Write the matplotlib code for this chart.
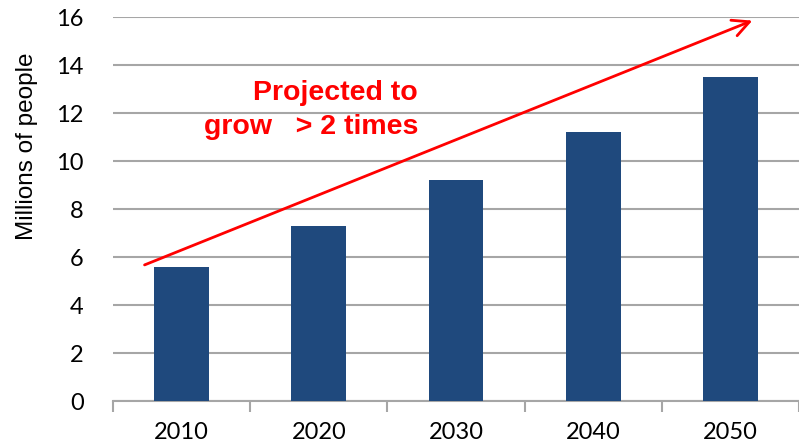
import numpy as np
import matplotlib.pyplot as plt

years = ["2010", "2020", "2030", "2040", "2050"]
people_millions = [5.6, 7.3, 9.2, 11.2, 13.5]
y_ticks = [0, 2, 4, 6, 8, 10, 12, 14, 16]

BAR_COLOR = "#1F497D"
GRID_COLOR = "#A6A6A6"

fig = plt.figure(figsize=(7.99, 4.47), dpi=100)
ax = fig.add_axes([113 / 799, 46 / 447, 686 / 799, 384 / 447])

x = np.arange(len(years))
ax.bar(x, people_millions, width=0.4, color=BAR_COLOR, zorder=3)

ax.set_xlim(-0.5, len(years) - 0.5)
ax.set_ylim(0, 16)
ax.set_yticks(y_ticks)
ax.yaxis.grid(True, color=GRID_COLOR, linewidth=1.5, zorder=0)
ax.set_axisbelow(True)

for side in ["top", "right", "left"]:
    ax.spines[side].set_visible(False)
ax.spines["bottom"].set_color(GRID_COLOR)
ax.spines["bottom"].set_linewidth(1.5)

# category labels centred under the bars, ticks on the boundaries
ax.set_xticks(np.arange(-0.5, len(years)), minor=False)
ax.set_xticklabels([])
ax.tick_params(axis="x", length=8, width=1.5, color=GRID_COLOR, direction="out")
ax.set_xticks(x, minor=True)
ax.set_xticklabels(years, minor=True, fontsize=17, family="Lato")
ax.tick_params(axis="x", which="minor", length=0, pad=15)
ax.tick_params(axis="y", length=0, labelsize=17, pad=21)
for lab in ax.get_yticklabels():
    lab.set_family("Lato")

# axis title sits in the upper part of the left margin
fig.text(27 / 799, 1 - 146 / 447, "Millions of people", fontsize=17.5,
         family="Liberation Sans", rotation=90, ha="center", va="center")

# growth arrow
ax.annotate("", xy=(4.16, 15.85), xytext=(-0.27, 5.67),
            arrowprops=dict(arrowstyle="->", color="red", lw=2,
                            mutation_scale=30, shrinkA=0, shrinkB=0))
ax.text(1.723, 12.54, "Projected to", color="red", fontsize=20.5,
        fontweight="bold", family="Liberation Sans", ha="right", va="baseline")
ax.text(1.723, 11.12, "grow   > 2 times", color="red", fontsize=20.5,
        fontweight="bold", family="Liberation Sans", ha="right", va="baseline")

fig.savefig("out.png", dpi=100)
